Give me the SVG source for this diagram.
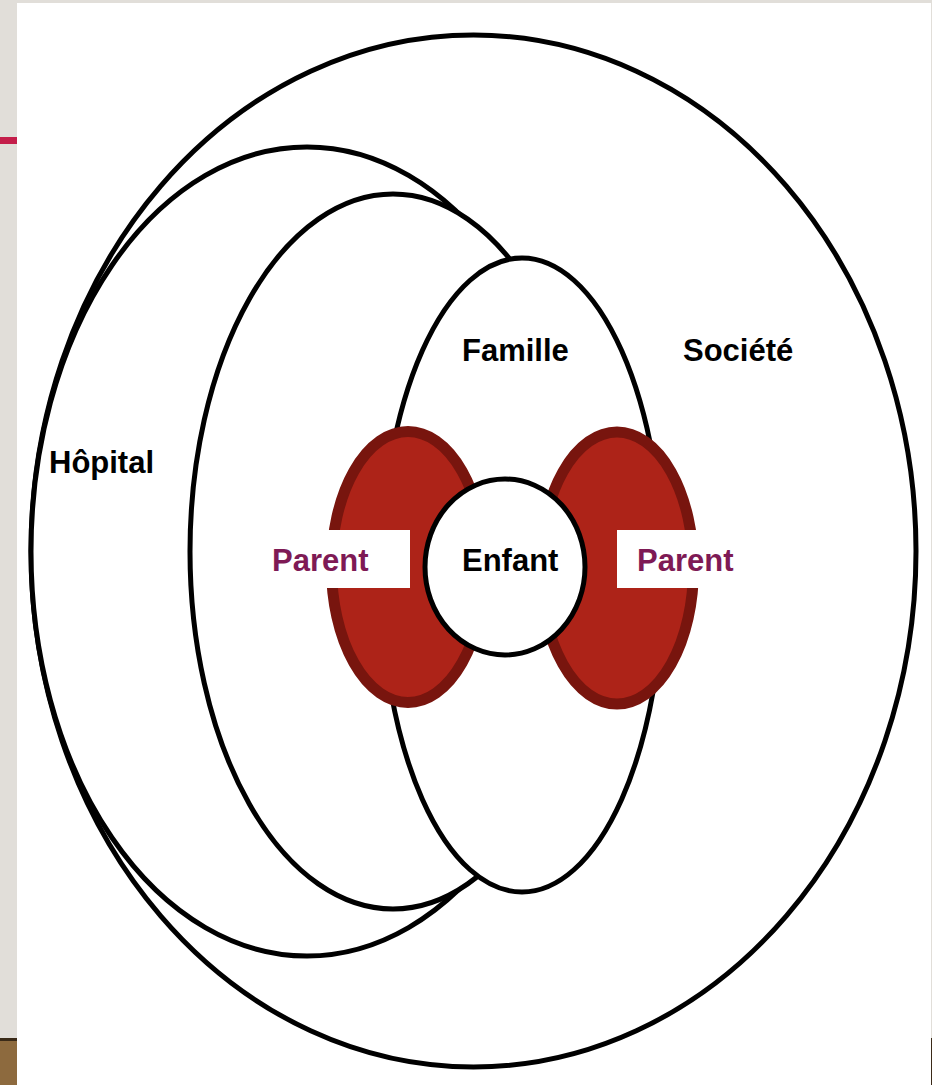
<svg xmlns="http://www.w3.org/2000/svg" width="932" height="1085" viewBox="0 0 932 1085">
<style>
.ring{fill:#fff;stroke:#000;stroke-width:5}
.parent{fill:#ad2318;stroke:#78150e;stroke-width:11}
.lbl{font-family:"Liberation Sans",Arial,sans-serif;font-weight:bold;font-size:31px;fill:#000}
.plbl{fill:#7e1a55}
</style>
<rect x="0" y="0" width="932" height="1085" fill="#e1ded9"/>
<rect x="0" y="137" width="17" height="7" fill="#c41e4a"/>
<rect x="0" y="1038" width="17" height="47" fill="#8d6a3e"/>
<rect x="0" y="1038" width="17" height="3" fill="#3a2a18"/>
<rect x="931" y="1038" width="1" height="47" fill="#3a2a18"/>
<rect x="17" y="3" width="914" height="1082" fill="#fff"/>
<g id="societe">
<ellipse class="ring" cx="473.5" cy="551" rx="442.5" ry="516"/>
<text class="lbl" x="683" y="361">Société</text>
</g>
<g id="hopital">
<ellipse class="ring" cx="307" cy="551.5" rx="276" ry="404.5"/>
<text class="lbl" x="49" y="473">Hôpital</text>
</g>
<g id="inner">
<ellipse class="ring" cx="393" cy="551.5" rx="203" ry="357.5"/>
</g>
<g id="famille">
<ellipse class="ring" cx="522" cy="575" rx="141" ry="317"/>
<text class="lbl" x="462" y="361">Famille</text>
</g>
<g id="parent-left">
<ellipse class="parent" cx="408" cy="567" rx="76.5" ry="135.5"/>
<rect x="262" y="530" width="148" height="58" fill="#fff"/>
<text class="lbl plbl" x="272" y="571">Parent</text>
</g>
<g id="parent-right">
<ellipse class="parent" cx="617" cy="568" rx="76.5" ry="136"/>
<rect x="617" y="530" width="128" height="58" fill="#fff"/>
<text class="lbl plbl" x="637" y="571">Parent</text>
</g>
<g id="enfant">
<ellipse class="ring" cx="505" cy="567" rx="80" ry="88"/>
<text class="lbl" x="462" y="571">Enfant</text>
</g>
<g id="connectors"/>
</svg>
